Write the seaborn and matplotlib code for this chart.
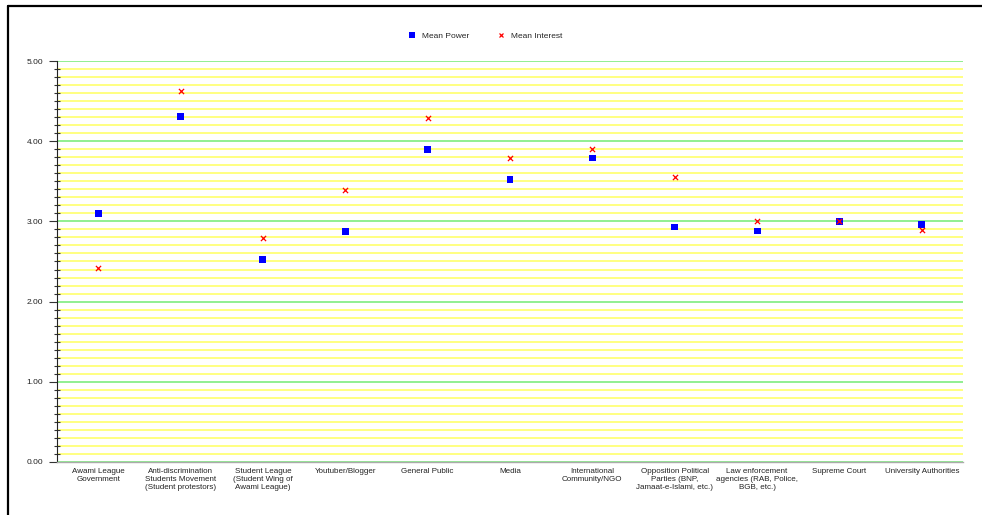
import pandas as pd
import seaborn as sns
import matplotlib.pyplot as plt
from matplotlib.lines import Line2D
from matplotlib.ticker import MultipleLocator

categories = ['Awami League\nGovernment',
              'Anti-discrimination\nStudents Movement\n(Student protestors)',
              'Student League\n(Student Wing of\nAwami League)',
              'Youtuber/Blogger',
              'General Public',
              'Media',
              'International\nCommunity/NGO',
              'Opposition Political\nParties (BNP,\nJamaat-e-Islami, etc.)',
              'Law enforcement\nagencies (RAB, Police,\nBGB, etc.)',
              'Supreme Court',
              'University Authorities']
mean_power = [3.10, 4.31, 2.52, 2.87, 3.90, 3.52, 3.79, 2.93, 2.88, 3.00, 2.96]
mean_interest = [2.42, 4.63, 2.79, 3.39, 4.29, 3.79, 3.90, 3.55, 3.00, 3.00, 2.89]

df = pd.DataFrame({'x': list(range(len(categories))) * 2,
                   'value': mean_power + mean_interest,
                   'series': ['Mean Power'] * len(categories) + ['Mean Interest'] * len(categories)})

sns.set_style('white')
plt.rcParams['font.family'] = ['Liberation Sans', 'DejaVu Sans']

fig = plt.figure(figsize=(9.82, 5.15), dpi=100)
ax = fig.add_axes([0.058, 0.103, 0.9227, 0.7785])

# grid: yellow every 0.1, green every 1
for i in range(51):
    y = i / 10
    if i % 10 == 0:
        ax.axhline(y, color='#88ee88', lw=1.3, zorder=0)
    else:
        ax.axhline(y, color='#ffff77', lw=1.3, zorder=0)

power = df[df['series'] == 'Mean Power']
interest = df[df['series'] == 'Mean Interest']
sns.scatterplot(data=power, x='x', y='value', marker='s', color='#0000ff', s=24,
                edgecolor='none', ax=ax, zorder=3, legend=False)
sns.scatterplot(data=interest, x='x', y='value', marker='x', color='#ff0000', s=14,
                linewidth=0.9, ax=ax, zorder=4, legend=False)

ax.set_xlim(-0.5, len(categories) - 0.5)
ax.set_ylim(0, 5)
ax.set_xticks(range(len(categories)))
ax.set_xticklabels(categories, fontsize=5.8, color='#222222', linespacing=1.2)
ax.tick_params(axis='x', length=0, pad=4)
ax.yaxis.set_major_locator(MultipleLocator(1))
ax.yaxis.set_minor_locator(MultipleLocator(0.1))
ax.set_yticks([0, 1, 2, 3, 4, 5])
ax.set_yticklabels(['%.2f' % v for v in [0, 1, 2, 3, 4, 5]], fontsize=6, color='#222222')
ax.tick_params(axis='y', which='major', left=True, direction='out', length=6, width=0.8, color='#333333', pad=4)
ax.tick_params(axis='y', which='minor', left=True, direction='inout', length=5, width=0.8, color='#333333')
ax.set_xlabel('')
ax.set_ylabel('')
for s in ['top', 'right']:
    ax.spines[s].set_visible(False)
ax.spines['left'].set_color('#222222')
ax.spines['left'].set_linewidth(0.8)
ax.spines['bottom'].set_color('#aaaaaa')
ax.spines['bottom'].set_linewidth(1.0)

handles = [Line2D([], [], marker='s', color='#0000ff', ls='', markersize=4.5, markeredgewidth=0),
           Line2D([], [], marker='x', color='#ff0000', ls='', markersize=3.5, markeredgewidth=0.9)]
fig.legend(handles, ['Mean Power', 'Mean Interest'], loc='center', bbox_to_anchor=(0.494, 0.93),
           ncol=2, frameon=False, fontsize=6, handletextpad=0.8, columnspacing=3.2, handlelength=1)

# outer frame (top and left only)
fig.add_artist(Line2D([0.0085, 1.0], [0.989, 0.989], color='black', lw=1.6, transform=fig.transFigure))
fig.add_artist(Line2D([0.0085, 0.0085], [0.0, 0.989], color='black', lw=1.6, transform=fig.transFigure))

fig.savefig('out.png', dpi=100)
